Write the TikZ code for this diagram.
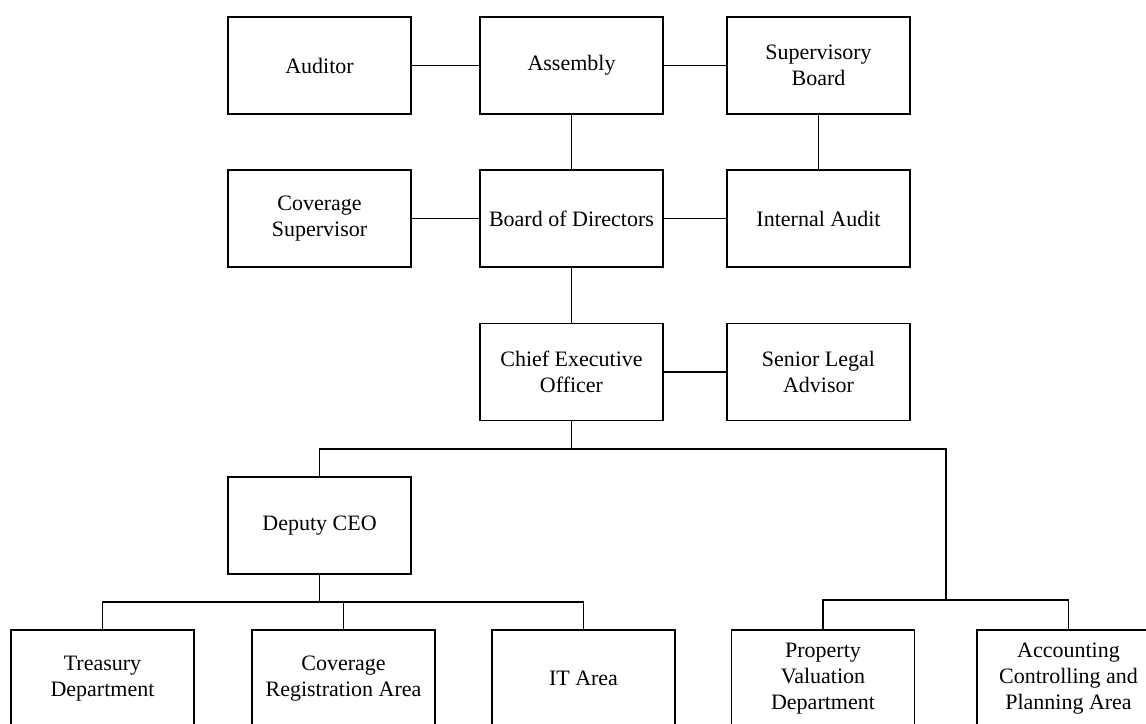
\documentclass[tikz,border=0pt]{standalone}
\usepackage{fontspec}
\setmainfont{Liberation Serif}
\usepackage{tikz}

\begin{document}
\begin{tikzpicture}[x=0.5pt, y=-0.5pt, line width=0.6pt,
		unit/.style={draw, minimum width=91.5pt, minimum height=48.5pt, align=center, inner sep=2pt, outer sep=0pt, font=\fontsize{11}{13}\selectfont}]
		\clip (0,0) rectangle (1146,723);
		\node[unit] (auditor) at (319.5,65.5) {Auditor};
		\node[unit] (assembly) at (571.5,65.5) {Assembly};
		\node[unit] (supboard) at (818.5,65.5) {Supervisory\\Board};
		\node[unit] (covsup) at (319.5,218.5) {Coverage\\Supervisor};
		\node[unit] (directors) at (571.5,218.5) {Board of Directors};
		\node[unit] (intaudit) at (818.5,218.5) {Internal Audit};
		\node[unit] (ceo) at (571.5,372) {Chief Executive\\Officer};
		\node[unit] (legal) at (818.5,372) {Senior Legal\\Advisor};
		\node[unit] (deputy) at (319.5,525.5) {Deputy CEO};
		\node[unit] (treasury) at (102.5,678.5) {Treasury\\Department};
		\node[unit] (covreg) at (343.5,678.5) {Coverage\\Registration Area};
		\node[unit] (itarea) at (583.5,678.5) {IT Area};
		\node[unit] (property) at (823,678.5) {Property\\Valuation\\Department};
		\node[unit] (accounting) at (1068.5,678.5) {Accounting\\Controlling and\\Planning Area};
		\coordinate (ceobus) at (946,449);
		\coordinate (rightbus) at (946,600);
		\coordinate (deputybus) at (319.5,602);
		\draw (auditor) -- (assembly);
		\draw (assembly) -- (supboard);
		\draw (covsup) -- (directors);
		\draw (directors) -- (intaudit);
		\draw (assembly) -- (directors);
		\draw (supboard) -- (intaudit);
		\draw (directors) -- (ceo);
		\draw (ceo) -- (legal);
		\draw (ceo.south) -- (ceo.south |- ceobus);
		\draw (deputy.north) |- (ceobus) -- (rightbus);
		\draw (property.north) |- (rightbus) -| (accounting.north);
		\draw (deputy.south) -- (deputybus);
		\draw (treasury.north) |- (deputybus) -| (itarea.north);
		\draw (covreg.north) -- (covreg.north |- deputybus);
	\end{tikzpicture}
\end{document}
